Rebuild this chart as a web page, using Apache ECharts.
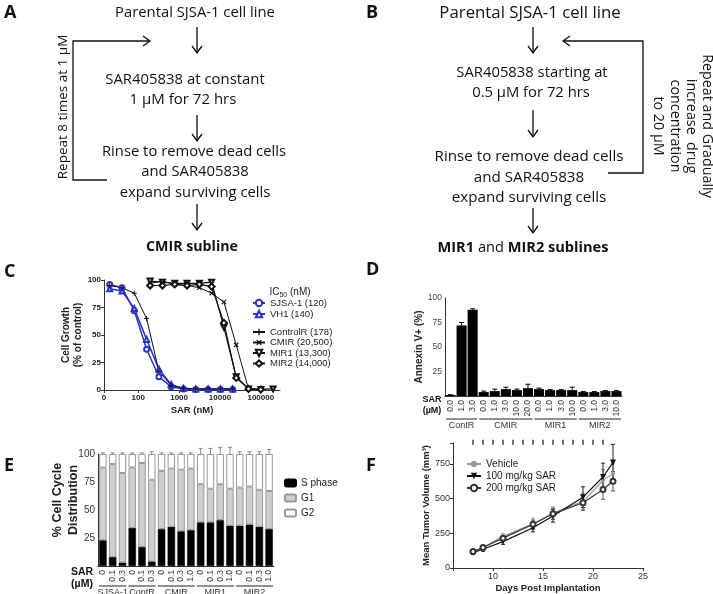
<!DOCTYPE html>
<html>
<head>
<meta charset="utf-8">
<script src="https://cdn.jsdelivr.net/npm/echarts@6/dist/echarts.min.js"></script>
<style>
html, body { margin: 0; padding: 0; background: #fff; }
#main { width: 713px; height: 594px; }
</style>
</head>
<body>
<div id="main"></div>
<script>
// ---- C: growth curves (2-fold dilutions, nM) ----
var concLow = [20, 40, 80, 160, 320, 640, 1280, 2560, 5120, 10240, 20480];
var concHigh = [195, 391, 781, 1563, 3125, 6250, 12500, 25000, 50000, 100000, 200000];
var growthSJSA = [96, 93, 72, 37, 12, 3, 1, 0.5, 0.5, 0.5, 0.5];
var growthVH1 = [92, 90, 74, 46, 19, 5, 1.5, 1, 1, 1, 1];
var growthControlR = [95, 93, 88, 65, 17, 4, 1.5, 1, 1, 1, 1];
var growthCMIR = [97, 99, 96, 95, 93, 88, 80, 41, 1, 0.5];
var growthMIR1 = [99, 98, 97, 97, 97, 98, 57, 12, 1, 0.5, 1];
var growthMIR2 = [95, 95, 96, 95, 96, 94, 61, 11, 1, 0.5];

// ---- D: annexin V+ (%) ----
var annexinLabels = ['0.0', '1.0', '3.0', '0.0', '1.0', '3.0', '10.0', '20.0', '0.0', '1.0', '3.0', '10.0', '0.0', '1.0', '3.0', '10.0'];
var annexinValues = [1, 72, 88, 4, 5, 7, 6, 8, 7, 6, 6, 6, 4, 4, 5, 5];
var annexinErr = [0.3, 3, 1, 1, 2, 2, 1, 4, 1, 0.5, 0.5, 3, 0.5, 0.5, 0.5, 0.5];
var annexinGroups = ['ContR', 'CMIR', 'MIR1', 'MIR2'];
var annexinGroupSizes = [3, 5, 4, 4];

// ---- E: cell cycle distribution (%) ----
var cycleLabels = ['0', '0.1', '0.3', '0', '0.1', '0.3', '0', '0.1', '0.3', '1.0', '0', '0.1', '0.3', '1.0', '0', '0.1', '0.3', '1.0'];
var sPhase = [23, 8, 3, 34, 17, 4, 33, 35, 31, 32, 39, 39, 41, 36, 36, 37, 35, 33];
var g1Phase = [65, 83, 80, 54, 75, 73, 52, 52, 55, 55, 34, 30, 32, 33, 34, 34, 33, 34];
var g2Phase = [12, 9, 17, 12, 8, 23, 15, 13, 14, 13, 27, 31, 27, 31, 30, 29, 32, 33];
var sErr = [1, 1, 0.5, 2, 1, 0.5, 1, 2, 1, 0.5, 4, 5, 4, 5, 2, 2, 3, 4];
var g1Err = [2, 1, 1, 1, 0.5, 1, 0.5, 2, 2, 0.5, 2, 2, 1, 0.5, 2, 4, 2, 0.5];
var g2Err = [1, 1, 1, 1, 1, 2, 1, 1, 1, 1, 5, 5, 6, 6, 2, 2, 2, 4];
var cycleGroups = ['SJSA-1', 'ContR', 'CMIR', 'MIR1', 'MIR2'];
var cycleGroupSizes = [3, 3, 4, 4, 4];

// ---- F: tumour volume (mm3) ----
var days = [8, 9, 11, 14, 16, 19, 21, 22];
var vehicle = [118, 148, 228, 318, 395, 480, 630, 680];
var vehicleErr = [12, 15, 18, 40, 45, 60, 80, 70];
var sar100 = [110, 135, 190, 290, 375, 510, 655, 760];
var sar100Err = [12, 15, 20, 30, 45, 75, 100, 130];
var sar200 = [118, 148, 215, 315, 390, 470, 565, 625];
var sar200Err = [10, 12, 15, 30, 40, 55, 70, 70];
var dosingDays = [8, 9, 10, 11, 12, 13, 14, 15, 16, 17, 18, 19, 20, 21];

var FONT = 'Liberation Sans, Arial, sans-serif';
var FLOW = 'Open Sans, Noto Sans, sans-serif';
var BLUE = '#2c34c8';

function zip(xs, ys) {
    return ys.map(function(y, i) { return [xs[i], y]; });
}

// error bars as custom series: data items [x, y, err]
function errorBars(xi, yi, data, color, both, cap) {
    return {
        type: 'custom', xAxisIndex: xi, yAxisIndex: yi, data: data, z: 1, silent: true, clip: false,
        renderItem: function(params, api) {
            var x = api.value(0), y = api.value(1), e = api.value(2);
            var top = api.coord([x, y + e]);
            var bot = api.coord([x, both ? y - e : y]);
            var st = {stroke: color, lineWidth: 1};
            var kids = [
                {type: 'line', shape: {x1: top[0], y1: top[1], x2: bot[0], y2: bot[1]}, style: st},
                {type: 'line', shape: {x1: top[0] - cap, y1: top[1], x2: top[0] + cap, y2: top[1]}, style: st}
            ];
            if (both) kids.push({type: 'line', shape: {x1: bot[0] - cap, y1: bot[1], x2: bot[0] + cap, y2: bot[1]}, style: st});
            return {type: 'group', children: kids};
        }
    };
}

function txt(x, y, s, size, opts) {
    opts = opts || {};
    return {
        type: 'text', x: x, y: y, rotation: opts.rot || 0, silent: true,
        style: {
            text: s, fontSize: size, fontFamily: opts.family || FLOW, fontWeight: opts.weight || 'normal',
            fill: opts.color || '#111', align: opts.align || 'center', verticalAlign: opts.valign || 'middle',
            lineHeight: opts.lh, rich: opts.rich
        }
    };
}
function pline(points, w) {
    return {type: 'polyline', silent: true, shape: {points: points}, style: {stroke: '#111', lineWidth: w || 1.3, fill: null}};
}
function downArrow(x, y1, y2) {
    return [pline([[x, y1], [x, y2]]), pline([[x - 5, y2 - 7], [x, y2], [x + 5, y2 - 7]])];
}

var flow = [];
// panel letters
[['A', 4, 13], ['B', 366, 13], ['C', 4, 272], ['D', 366, 270], ['E', 4, 466], ['F', 366, 466]].forEach(function(l) {
    flow.push(txt(l[1], l[2], l[0], 18, {weight: 'bold', align: 'left'}));
});
// A
flow.push(txt(195, 13, 'Parental SJSA-1 cell line', 14.8));
flow = flow.concat(downArrow(197, 27, 53));
flow.push(txt(185, 80, 'SAR405838 at constant', 14.9));
flow.push(txt(183, 100, '1 \u00b5M for 72 hrs', 15));
flow = flow.concat(downArrow(197, 115, 141));
flow.push(txt(194, 152, 'Rinse to remove dead cells', 14.8));
flow.push(txt(195, 172, 'and SAR405838', 14.8));
flow.push(txt(195, 193, 'expand surviving cells', 14.8));
flow = flow.concat(downArrow(197, 204, 230));
flow.push(txt(192, 247, 'CMIR subline', 14.2, {weight: 'bold'}));
flow.push(pline([[107, 180], [73, 180], [73, 41], [150, 41]]));
flow.push(pline([[143, 36], [150, 41], [143, 46]]));
flow.push(txt(63, 107, 'Repeat 8 times at 1 \u00b5M', 13.5, {rot: Math.PI / 2}));
// B
flow.push(txt(530, 13, 'Parental SJSA-1 cell line', 16.8));
flow = flow.concat(downArrow(533, 27, 53));
flow.push(txt(532, 73, 'SAR405838 starting at', 14.8));
flow.push(txt(531, 93, '0.5 \u00b5M for 72 hrs', 14.8));
flow = flow.concat(downArrow(533, 110, 137));
flow.push(txt(529, 157, 'Rinse to remove dead cells', 15.2));
flow.push(txt(529, 178, 'and SAR405838', 15.2));
flow.push(txt(529, 198, 'expand surviving cells', 15.2));
flow = flow.concat(downArrow(533, 208, 233));
flow.push(txt(523, 248, '{b|MIR1} and {b|MIR2 sublines}', 14.6, {rich: {b: {fontWeight: 'bold', fontSize: 14.6, fontFamily: FLOW}}}));
flow.push(pline([[608, 173], [643, 173], [643, 41], [563, 41]]));
flow.push(pline([[570, 36], [563, 41], [570, 46]]));
flow.push(txt(683, 126, 'Repeat and Gradually\nincrease  drug\nconcentration\nto 20 \u00b5M', 14.3, {rot: -Math.PI / 2, lh: 16.3}));
// axis side labels for D and E
flow.push(txt(432, 400, 'SAR', 9, {family: FONT, weight: 'bold'}));
flow.push(txt(432, 411, '(\u00b5M)', 9, {family: FONT, weight: 'bold'}));
flow.push(txt(82, 572, 'SAR', 10.5, {family: FONT, weight: 'bold'}));
flow.push(txt(82, 584, '(\u00b5M)', 10.5, {family: FONT, weight: 'bold'}));
flow.push(txt(58, 500, '% Cell Cycle', 12.5, {family: FONT, weight: 'bold', color: '#222', rot: Math.PI / 2}));
flow.push(txt(74, 500, 'Distribution', 12.5, {family: FONT, weight: 'bold', color: '#222', rot: Math.PI / 2}));
flow.push(txt(290, 292, '{a|IC}{s|50}{a| (nM)}', 10, {family: FONT, rich: {
    a: {fontSize: 10, fontFamily: FONT, fill: '#222'}, s: {fontSize: 7, fontFamily: FONT, fill: '#222', padding: [6, 0, 0, 0]}
}}));

var axisLine = {lineStyle: {color: '#333', width: 1}};
var tick = {length: 3, lineStyle: {color: '#333'}};

var option = {
    animation: false,
    textStyle: {fontFamily: FONT},
    grid: [
        {left: 104, top: 280, width: 176, height: 110},
        {left: 445, top: 298, width: 177, height: 98},
        {left: 98, top: 454, width: 176, height: 112},
        {left: 453, top: 443, width: 190, height: 126}
    ],
    xAxis: [
        {gridIndex: 0, type: 'log', min: 14.5, max: 295000, axisLine: axisLine, axisTick: tick, splitLine: {show: false},
            name: 'SAR (nM)', nameLocation: 'middle', nameGap: 15,
            nameTextStyle: {fontSize: 9.5, fontWeight: 'bold', color: '#222'},
            axisLabel: {fontSize: 8, fontWeight: 'bold', color: '#222', margin: 4, showMaxLabel: false,
                formatter: function(v) { return v < 50 ? '0' : (v > 200000 ? '' : String(Math.round(v))); }}},
        {gridIndex: 1, type: 'category', data: annexinLabels, axisLine: axisLine, axisTick: {show: false},
            axisLabel: {rotate: 90, fontSize: 8.5, color: '#333', margin: 4, interval: 0}},
        {gridIndex: 2, type: 'category', data: cycleLabels, axisLine: axisLine, axisTick: {show: false},
            axisLabel: {rotate: 90, fontSize: 8.5, color: '#333', margin: 4, interval: 0}},
        {gridIndex: 3, type: 'value', min: 6, max: 25, splitNumber: 4, axisLine: axisLine, axisTick: tick, splitLine: {show: false},
            name: 'Days Post Implantation', nameLocation: 'middle', nameGap: 15,
            nameTextStyle: {fontSize: 9.5, fontWeight: 'bold', color: '#222'},
            axisLabel: {fontSize: 9, color: '#333', margin: 4,
                formatter: function(v) { return v % 5 === 0 ? String(v) : ''; }}}
    ],
    yAxis: [
        {gridIndex: 0, type: 'value', min: 0, max: 100, interval: 25, axisLine: {show: true, lineStyle: axisLine.lineStyle}, axisTick: tick,
            splitLine: {show: false}, name: 'Cell Growth\n(% of control)', nameLocation: 'middle', nameGap: 18,
            nameTextStyle: {fontSize: 10, fontWeight: 'bold', color: '#222', lineHeight: 12},
            axisLabel: {fontSize: 8, fontWeight: 'bold', color: '#222', margin: 3}},
        {gridIndex: 1, type: 'value', min: 0, max: 100, interval: 25, axisLine: {show: true, lineStyle: axisLine.lineStyle}, axisTick: tick,
            splitLine: {show: false}, name: 'Annexin V+ (%)', nameLocation: 'middle', nameGap: 16,
            nameTextStyle: {fontSize: 10, fontWeight: 'bold', color: '#222'},
            axisLabel: {fontSize: 8.5, color: '#444', margin: 3, formatter: function(v) { return v === 0 ? '' : v; }}},
        {gridIndex: 2, type: 'value', min: 0, max: 100, interval: 25, axisLine: {show: true, lineStyle: axisLine.lineStyle}, axisTick: tick,
            splitLine: {show: false},
            axisLabel: {fontSize: 10, color: '#333', margin: 3, formatter: function(v) { return v === 0 ? '' : v; }}},
        {gridIndex: 3, type: 'value', min: 0, max: 900, interval: 250, axisLine: {show: true, lineStyle: axisLine.lineStyle}, axisTick: tick,
            splitLine: {show: false}, name: 'Mean Tumor Volume (mm\u00b3)', nameLocation: 'middle', nameGap: 20,
            nameTextStyle: {fontSize: 9.5, fontWeight: 'bold', color: '#222'},
            axisLabel: {fontSize: 9, color: '#333', margin: 3, formatter: function(v) { return v % 250 === 0 ? v : ''; }}}
    ],
    legend: [
        {orient: 'vertical', left: 252, top: 298, itemGap: 1, itemWidth: 12, itemHeight: 8, padding: 0,
            textStyle: {fontSize: 9.5, color: '#222'}, data: ['SJSA-1 (120)', 'VH1 (140)']},
        {orient: 'vertical', left: 252, top: 327, itemGap: 0.5, itemWidth: 12, itemHeight: 8, padding: 0,
            textStyle: {fontSize: 9.5, color: '#222'}, data: ['ControlR (178)', 'CMIR (20,500)', 'MIR1 (13,300)', 'MIR2 (14,000)']},
        {orient: 'vertical', left: 284, top: 478, itemGap: 5, itemWidth: 11, itemHeight: 7, padding: 0,
            textStyle: {fontSize: 10, color: '#222'}, data: ['S phase', 'G1', 'G2']},
        {orient: 'vertical', left: 466, top: 459, itemGap: 2, itemWidth: 14, itemHeight: 8, padding: 0,
            textStyle: {fontSize: 10, color: '#222'}, data: ['Vehicle', '100 mg/kg SAR', '200 mg/kg SAR']}
    ],
    graphic: flow,
    series: [
        {name: 'SJSA-1 (120)', type: 'line', xAxisIndex: 0, yAxisIndex: 0, data: zip(concLow, growthSJSA),
            symbol: 'emptyCircle', symbolSize: 5, color: BLUE, lineStyle: {width: 1.5}},
        {name: 'VH1 (140)', type: 'line', xAxisIndex: 0, yAxisIndex: 0, data: zip(concLow, growthVH1),
            symbol: 'emptyTriangle', symbolSize: 5, color: BLUE, lineStyle: {width: 1.5}},
        {name: 'ControlR (178)', type: 'line', xAxisIndex: 0, yAxisIndex: 0, data: zip(concLow, growthControlR),
            symbol: 'path://M4,0H6V4H10V6H6V10H4V6H0V4H4Z', symbolSize: 5, color: '#111', lineStyle: {width: 1}},
        {name: 'CMIR (20,500)', type: 'line', xAxisIndex: 0, yAxisIndex: 0, data: zip(concHigh, growthCMIR),
            symbol: 'path://M4,0H6V4H10V6H6V10H4V6H0V4H4Z', symbolRotate: 45, symbolSize: 6, color: '#111', lineStyle: {width: 1}},
        {name: 'MIR1 (13,300)', type: 'line', xAxisIndex: 0, yAxisIndex: 0, data: zip(concHigh, growthMIR1),
            symbol: 'emptyTriangle', symbolRotate: 180, symbolSize: 5, color: '#111', lineStyle: {width: 1.2}},
        {name: 'MIR2 (14,000)', type: 'line', xAxisIndex: 0, yAxisIndex: 0, data: zip(concHigh, growthMIR2),
            symbol: 'emptyDiamond', symbolSize: 6, color: '#111', lineStyle: {width: 1.2}},

        {type: 'bar', xAxisIndex: 1, yAxisIndex: 1, data: annexinValues, barCategoryGap: '9%', z: 2,
            itemStyle: {color: '#000'}},
        errorBars(1, 1, annexinValues.map(function(v, i) { return [i, v, annexinErr[i]]; }), '#000', false, 2.5),

        {name: 'S phase', type: 'bar', stack: 'cc', xAxisIndex: 2, yAxisIndex: 2, data: sPhase, barCategoryGap: '24%', z: 2,
            itemStyle: {color: '#000', borderColor: '#000', borderWidth: 0.5}},
        {name: 'G1', type: 'bar', stack: 'cc', xAxisIndex: 2, yAxisIndex: 2, data: g1Phase, z: 2,
            itemStyle: {color: '#cfcfcf', borderColor: '#999', borderWidth: 1}},
        {name: 'G2', type: 'bar', stack: 'cc', xAxisIndex: 2, yAxisIndex: 2, data: g2Phase, z: 2,
            itemStyle: {color: '#fff', borderColor: '#999', borderWidth: 1}},
        errorBars(2, 2, sPhase.map(function(v, i) { return [i, v, sErr[i]]; }), '#888', false, 2),
        errorBars(2, 2, sPhase.map(function(v, i) { return [i, v + g1Phase[i], g1Err[i]]; }), '#888', false, 2),
        errorBars(2, 2, sPhase.map(function(v, i) { return [i, v + g1Phase[i] + g2Phase[i], g2Err[i]]; }), '#888', false, 2),

        {name: 'Vehicle', type: 'line', xAxisIndex: 3, yAxisIndex: 3, data: zip(days, vehicle), z: 3,
            symbol: 'circle', symbolSize: 4, color: '#9a9a9a', lineStyle: {width: 1.2}},
        {name: '100 mg/kg SAR', type: 'line', xAxisIndex: 3, yAxisIndex: 3, data: zip(days, sar100), z: 4,
            symbol: 'triangle', symbolRotate: 180, symbolSize: 6, color: '#111', lineStyle: {width: 1.2}},
        {name: '200 mg/kg SAR', type: 'line', xAxisIndex: 3, yAxisIndex: 3, data: zip(days, sar200), z: 4,
            symbol: 'emptyCircle', symbolSize: 5, color: '#333', lineStyle: {width: 1.2}},
        errorBars(3, 3, days.map(function(d, i) { return [d, vehicle[i], vehicleErr[i]]; }), '#9a9a9a', true, 2),
        errorBars(3, 3, days.map(function(d, i) { return [d, sar100[i], sar100Err[i]]; }), '#222', true, 2),
        errorBars(3, 3, days.map(function(d, i) { return [d, sar200[i], sar200Err[i]]; }), '#555', true, 2),
        {type: 'scatter', xAxisIndex: 3, yAxisIndex: 3, clip: false, silent: true,
            data: dosingDays.map(function(d) { return [d, 905]; }),
            symbol: 'rect', symbolSize: [1.5, 5], itemStyle: {color: '#111'}}
    ]
};

var chart = echarts.init(document.getElementById('main'), null, {renderer: 'canvas'});
chart.setOption(option);

// group underlines + names under the category axes
function groupMarks(xi, names, sizes, yLine, yText, size) {
    var out = [];
    var band = chart.convertToPixel({xAxisIndex: xi}, 1) - chart.convertToPixel({xAxisIndex: xi}, 0);
    var start = 0;
    names.forEach(function(name, k) {
        var a = chart.convertToPixel({xAxisIndex: xi}, start) - band / 2 + 1;
        var b = chart.convertToPixel({xAxisIndex: xi}, start + sizes[k] - 1) + band / 2 - 1;
        out.push({type: 'line', silent: true, shape: {x1: a, y1: yLine, x2: b, y2: yLine}, style: {stroke: '#222', lineWidth: 1}});
        out.push(txt((a + b) / 2, yText, name, size, {family: FONT, color: '#333', valign: 'top'}));
        start += sizes[k];
    });
    return out;
}
var extra = groupMarks(1, annexinGroups, annexinGroupSizes, 419, 421, 9)
    .concat(groupMarks(2, cycleGroups, cycleGroupSizes, 586, 588, 9));
chart.setOption({graphic: flow.concat(extra)}, {replaceMerge: ['graphic']});
</script>
</body>
</html>
